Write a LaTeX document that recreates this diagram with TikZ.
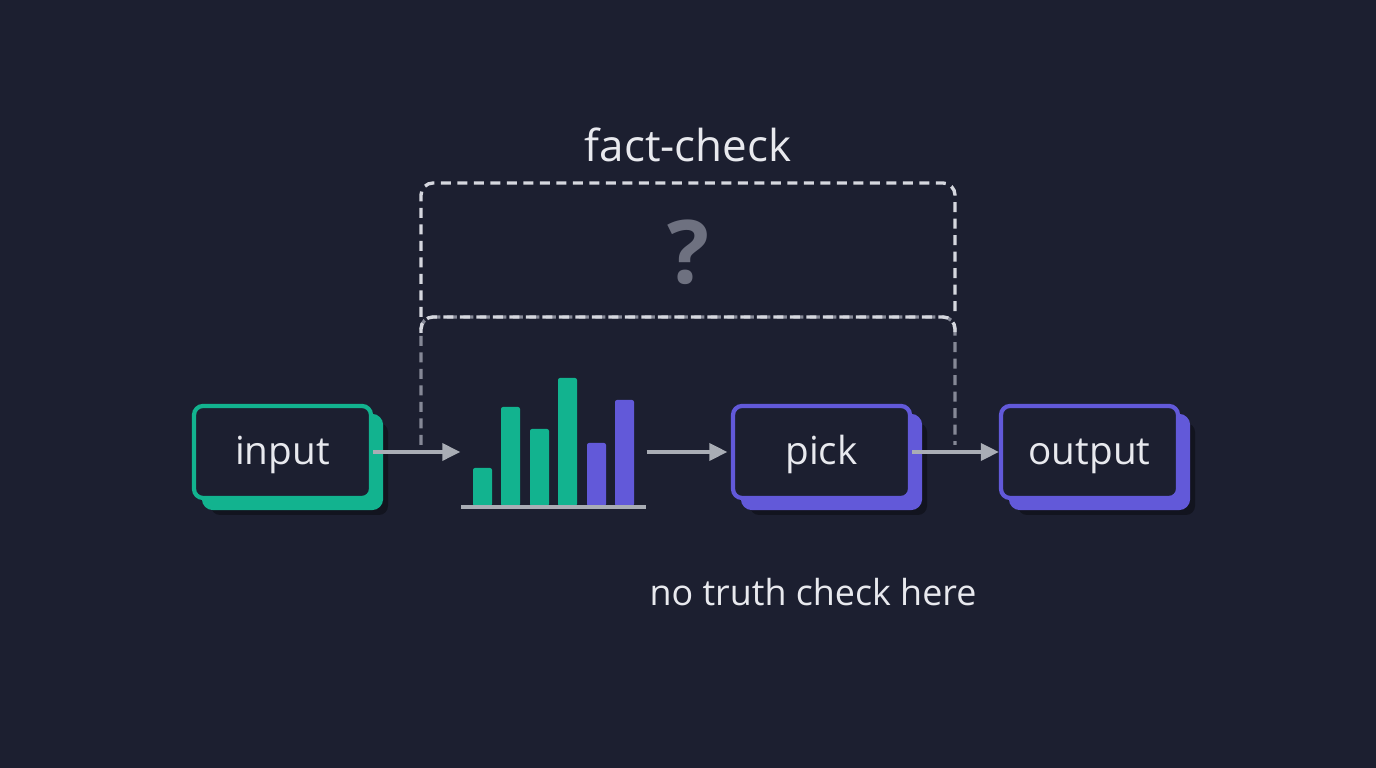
\documentclass[tikz,border=0pt]{standalone}
\usepackage{fontspec}
\setmainfont{Open Sans}
\usetikzlibrary{arrows.meta,positioning,shadows}
\definecolor{bgnavy}{HTML}{1C1F30}
\definecolor{tealbar}{HTML}{12B38F}
\definecolor{violetbar}{HTML}{6259D9}
\definecolor{arrowgray}{HTML}{A9ADB5}
\definecolor{dashlight}{HTML}{D5D7DE}
\definecolor{dashdim}{HTML}{858896}
\definecolor{qgray}{HTML}{6E7180}
\definecolor{txtlight}{HTML}{E8E9EE}

\begin{document}
\begin{tikzpicture}[
  box/.style={draw=#1, fill=bgnavy, line width=1.2pt, rounded corners=0.09cm,
    minimum width=1.77cm, minimum height=0.92cm, text=txtlight,
    text height=0.32cm, text depth=0.06cm,
    font=\fontsize{11}{13}\selectfont,
    drop shadow={shadow xshift=0.17cm, shadow yshift=-0.17cm, fill=black, opacity=0.35},
    copy shadow={shadow xshift=0.1cm, shadow yshift=-0.1cm, fill=#1, draw=#1}},
  arr/.style={draw=arrowgray, line width=1pt, -{Triangle[length=0.18cm, width=0.17cm]}},
  fcline/.style={line width=0.95pt, dash pattern=on 0.1cm off 0.065cm, rounded corners=0.12cm},
  lbl/.style={text=txtlight, inner sep=0pt}]
  % 바탕
  \fill[bgnavy] (0,0) rectangle (13.76,7.68);
  \useasboundingbox (0,0) rectangle (13.76,7.68);
  % 점선 상자 — 위 칸은 밝게, 아래 세로줄은 흐리게
  \draw[fcline, dashdim] (4.21,3.23) -- (4.21,4.51) -- (9.55,4.51) -- (9.55,3.23);
  \draw[fcline, dashlight] (4.21,4.51) -- (4.21,5.85) -- (9.55,5.85) -- (9.55,4.51);
  \draw[fcline, dashlight] (4.21,4.35) -- (4.21,4.51) -- (9.55,4.51) -- (9.55,4.35);
  \node[lbl, font=\fontsize{12.5}{15}\selectfont] (title) at (6.88,6.23) {fact-check};
  \node[text=qgray, font=\fontsize{25}{28}\selectfont\bfseries] (qmark) at (6.88,5.16) {?};
  % 상자
  \node[box=tealbar] (input) at (2.825,3.16) {input};
  \node[box=violetbar] (pick) at (8.215,3.16) {pick};
  \node[box=violetbar] (output) at (10.895,3.16) {output};
  % 막대 — 왼쪽 넷은 청록, 오른쪽 둘은 보라
  \node[minimum width=1.85cm, minimum height=0.2cm, inner sep=0pt] (chart) at (5.535,3.16) {};
  \foreach \x/\h/\c in {4.73/3.00/tealbar, 5.01/3.61/tealbar, 5.30/3.39/tealbar,
      5.58/3.90/tealbar, 5.87/3.25/violetbar, 6.15/3.68/violetbar} {
    \fill[\c, rounded corners=0.02cm] (\x,2.62) rectangle (\x+0.19,\h);
  }
  \draw[arrowgray, line width=1pt] (4.61,2.61) -- (6.46,2.61);
  % 화살표
  \draw[arr] (input.east) -- (chart.west);
  \draw[arr, shorten >=1pt] (chart.east) -- (pick.west);
  \draw[arr] (pick.east) -- (output.west);
  \node[lbl, font=\fontsize{10.2}{13}\selectfont] (note) at (8.13,1.76) {no truth check here};
\end{tikzpicture}
\end{document}
